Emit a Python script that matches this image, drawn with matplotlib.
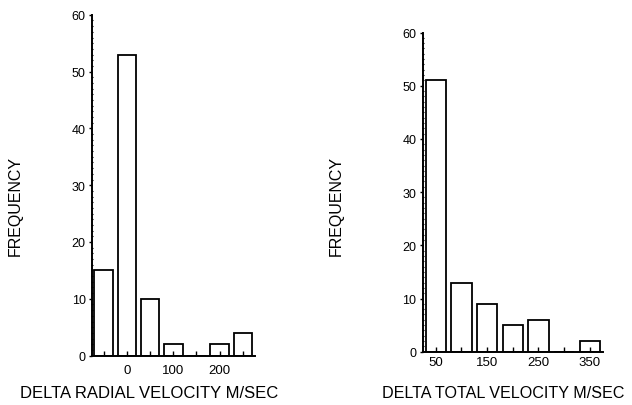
import matplotlib
matplotlib.use("Agg")
import matplotlib.pyplot as plt
from matplotlib.ticker import MultipleLocator, FixedLocator

plt.rcParams['font.family'] = ['Liberation Sans', 'DejaVu Sans']

# Histogram of radial velocity differences (bin centres, m/s)
radial_bins = [-50, 0, 50, 100, 150, 200, 250]
radial_freq = [15, 53, 10, 2, 0, 2, 4]
radial_ticks = [0, 100, 200]
radial_minor = [-50, 50, 150, 250]

# Histogram of total velocity differences (bin centres, m/s)
total_bins = [50, 100, 150, 200, 250, 300, 350]
total_freq = [51, 13, 9, 5, 6, 0, 2]
total_ticks = [50, 150, 250, 350]
total_minor = [100, 200, 300]

W, H = 632, 406
fig = plt.figure(figsize=(W / 100, H / 100), dpi=100)


def panel(rect, bins, freq, ticks, minor, xlim, xpad):
    ax = fig.add_axes(rect)
    ax.bar(bins, freq, width=40, color='white', edgecolor='black', linewidth=1.3, zorder=1)
    ax.set_axisbelow(False)
    ax.set_xlim(*xlim)
    ax.set_ylim(0, 60)
    for s in ['top', 'right']:
        ax.spines[s].set_visible(False)
    for s in ['left', 'bottom']:
        ax.spines[s].set_linewidth(1.4)
    ax.yaxis.set_major_locator(MultipleLocator(10))
    ax.yaxis.set_minor_locator(MultipleLocator(1))
    ax.xaxis.set_major_locator(FixedLocator(ticks))
    ax.xaxis.set_minor_locator(FixedLocator(minor))
    ax.tick_params(axis='y', which='major', direction='out', length=2.5, width=1, pad=2, labelsize=9)
    ax.tick_params(axis='y', which='minor', direction='inout', length=1.6, width=0.8)
    ax.tick_params(axis='x', which='both', direction='in', length=3.5, width=1, pad=xpad, labelsize=9.5)
    return ax


# left panel
panel([92 / W, 1 - 356.6 / H, 163 / W, 340.8 / H],
      radial_bins, radial_freq, radial_ticks, radial_minor, (-75, 276), 6)
# right panel
panel([422.7 / W, 1 - 352.7 / H, 180 / W, 319.2 / H],
      total_bins, total_freq, total_ticks, total_minor, (24.5, 375.2), 3)

fig.text(15 / W, 1 - 206 / H, 'FREQUENCY', rotation=90, ha='center', va='center', fontsize=11.5)
fig.text(336 / W, 1 - 206 / H, 'FREQUENCY', rotation=90, ha='center', va='center', fontsize=11.5)
fig.text(149 / W, 1 - 394 / H, 'DELTA RADIAL VELOCITY M/SEC', ha='center', va='center', fontsize=12)
fig.text(503 / W, 1 - 394 / H, 'DELTA TOTAL VELOCITY M/SEC', ha='center', va='center', fontsize=11.6)

fig.savefig('out.png', dpi=100)
